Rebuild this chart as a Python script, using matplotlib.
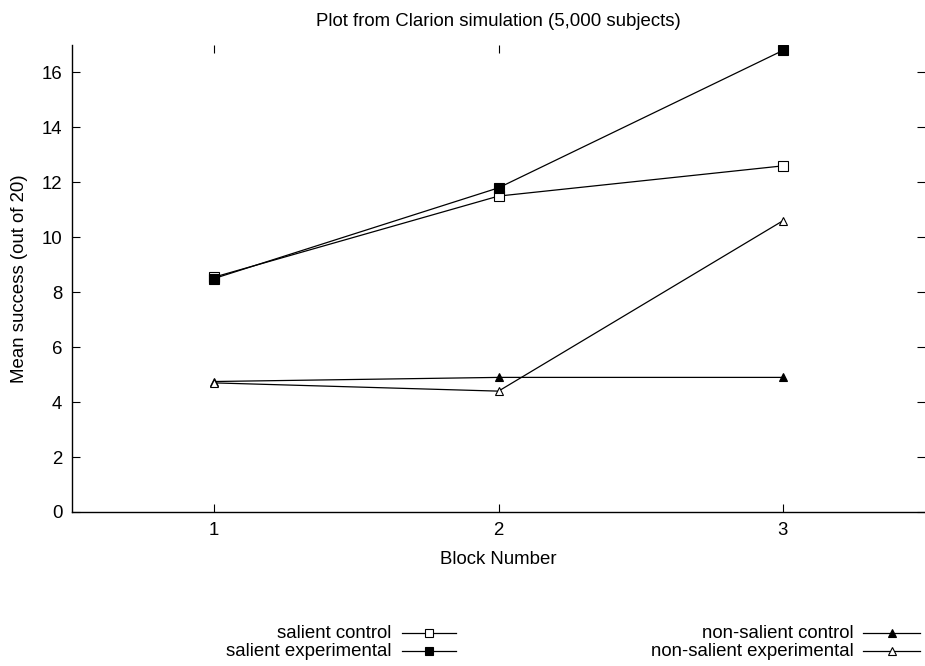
import matplotlib.pyplot as plt
from matplotlib.lines import Line2D

plt.rcParams['font.family'] = ['Liberation Sans', 'DejaVu Sans']

# block numbers and mean success per condition
blocks = [1, 2, 3]
salient_control = [8.55, 11.5, 12.6]
salient_experimental = [8.5, 11.8, 16.8]
nonsalient_control = [4.75, 4.9, 4.9]
nonsalient_experimental = [4.7, 4.4, 10.6]

labels = ['salient control', 'salient experimental',
          'non-salient control', 'non-salient experimental']
series = [salient_control, salient_experimental,
          nonsalient_control, nonsalient_experimental]
markers = ['s', 's', '^', '^']
fills = ['white', 'black', 'black', 'white']
msizes = [6.5, 6.5, 6, 6]

fs = 13.4

fig = plt.figure(figsize=(9.25, 6.66), dpi=100)
ax = fig.add_axes([72 / 925, 1 - 512 / 666, 1 - 72 / 925, (512 - 45) / 666])

for vals, m, fc, ms in zip(series, markers, fills, msizes):
    ax.plot(blocks, vals, color='black', lw=0.9, marker=m, mfc=fc, mec='black',
            mew=0.8, ms=ms)

ax.set_xlim(0.5, 3.5)
ax.set_ylim(0, 17)
ax.set_xticks(blocks)
ax.set_yticks(range(0, 17, 2))
ax.tick_params(direction='in', length=6, width=0.8, top=True, right=True,
               labelsize=fs, pad=7)
ax.spines['top'].set_visible(False)
ax.spines['right'].set_visible(False)
for s in ['left', 'bottom']:
    ax.spines[s].set_linewidth(1.0)

ax.set_xlabel('Block Number', fontsize=fs, labelpad=8.5)
ax.set_ylabel('Mean success (out of 20)', fontsize=fs, labelpad=10)
ax.set_title('Plot from Clarion simulation (5,000 subjects)', fontsize=fs, pad=14)

# legend drawn by hand, gnuplot style: right-aligned text, sample after it
text_right = [391, 391, 854, 854]
line_span = [(402, 456), (402, 456), (863, 920), (863, 920)]
rows = [1 - 633 / 666, 1 - 651 / 666, 1 - 633 / 666, 1 - 651 / 666]
for lab, tx, (x0, x1), y, m, fc, ms in zip(labels, text_right, line_span, rows,
                                           markers, fills, msizes):
    fig.text(tx / 925, y, lab, ha='right', va='center', fontsize=fs)
    fig.add_artist(Line2D([x0 / 925, x1 / 925], [y, y], color='black', lw=0.9,
                          transform=fig.transFigure))
    fig.add_artist(Line2D([(x0 + x1) / 2 / 925], [y], color='black', marker=m,
                          mfc=fc, mec='black', mew=0.8, ms=ms - 0.5,
                          transform=fig.transFigure))

fig.savefig('out.png', dpi=100)
